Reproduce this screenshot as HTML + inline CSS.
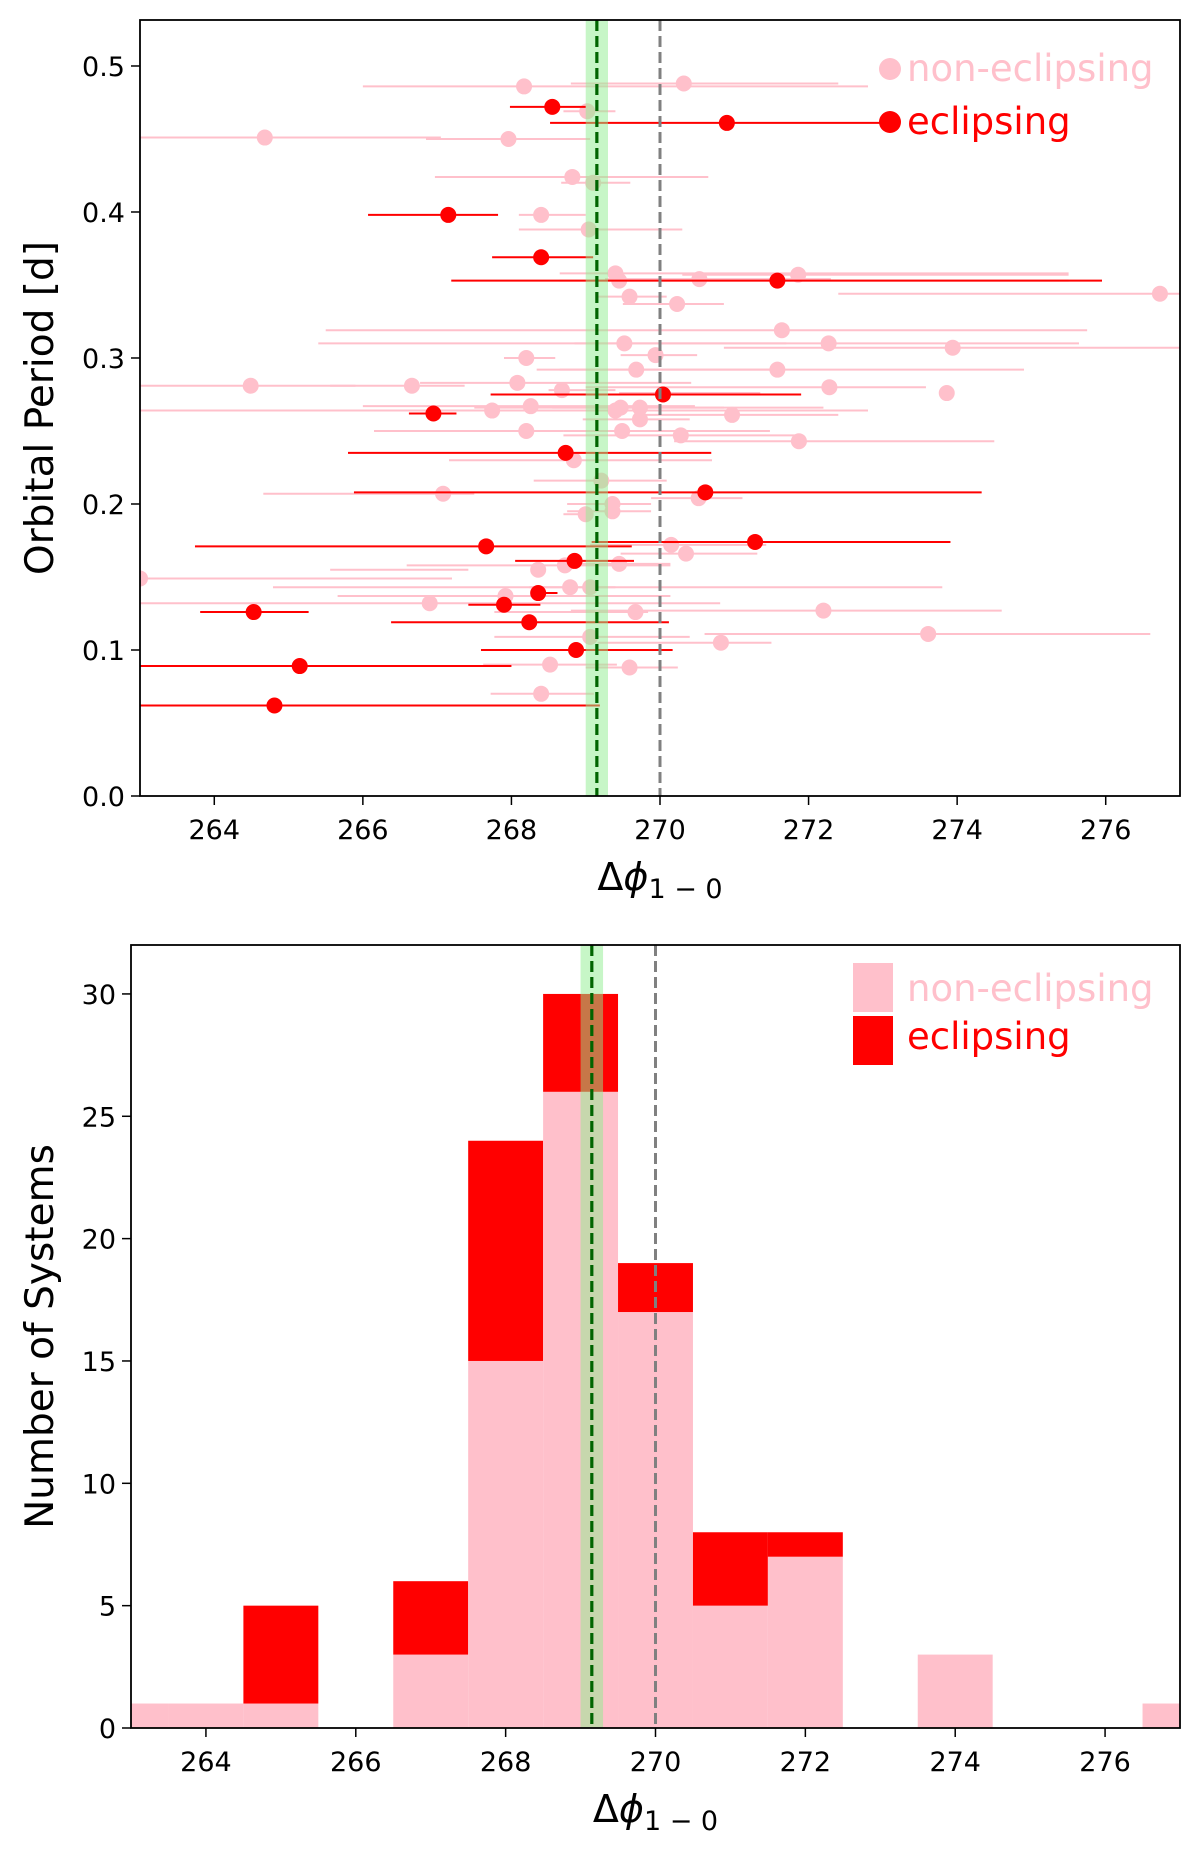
<!DOCTYPE html>
<html><head><meta charset="utf-8"><style>
html,body{margin:0;padding:0;background:#fff;}
svg{display:block;font-family:"DejaVu Sans","Liberation Sans",sans-serif;}
</style></head><body>
<svg id="fig" width="1200" height="1854" viewBox="0 0 1200 1854" xmlns="http://www.w3.org/2000/svg"></svg>
<script>
// ---- scatter data (x = delta phi, y = period, lo/hi = error bar ends) ----
const pinkX=[268.17,270.32,269.02,264.68,267.96,268.82,269.1,268.4,269.04,269.4,269.45,270.53,271.86,276.73,269.59,270.23,271.64,269.52,272.27,273.94,268.2,269.94,269.68,271.58,264.49,266.66,268.08,268.68,272.28,273.86,267.74,268.26,269.4,269.47,269.73,269.73,270.97,268.2,269.49,270.28,271.87,268.84,269.21,267.08,270.52,269.36,269.36,269.0,270.15,270.35,268.36,268.72,269.45,263.0,268.79,269.06,267.92,266.9,269.67,272.2,269.06,273.61,270.82,268.52,269.59,268.4];
const pinkY=[0.486,0.488,0.469,0.451,0.450,0.424,0.420,0.398,0.388,0.358,0.353,0.354,0.357,0.344,0.342,0.337,0.319,0.310,0.310,0.307,0.300,0.302,0.292,0.292,0.281,0.281,0.283,0.278,0.280,0.276,0.264,0.267,0.264,0.266,0.266,0.258,0.261,0.250,0.250,0.247,0.243,0.230,0.216,0.207,0.204,0.200,0.195,0.193,0.172,0.166,0.155,0.158,0.159,0.149,0.143,0.143,0.137,0.132,0.126,0.127,0.109,0.111,0.105,0.090,0.088,0.070];
const pinkLo=[266.0,268.8,268.7,263.0,266.85,266.97,268.67,268.1,268.1,268.65,268.65,269.26,270.3,272.4,269.16,269.5,265.5,265.4,268.85,270.86,267.9,269.47,268.65,268.34,263.0,265.56,266.77,268.5,269.0,269.45,263.0,266.0,267.1,267.5,268.55,268.96,269.78,266.15,268.7,268.7,270.19,267.16,268.3,264.66,269.88,268.75,268.75,268.7,269.06,269.47,265.56,266.59,268.75,263.0,264.79,268.24,265.66,263.0,267.77,268.8,267.77,270.6,269.16,267.62,269.0,267.72];
const pinkHi=[272.8,272.4,269.4,267.05,269.06,270.65,269.6,269.0,270.3,275.5,275.5,272.3,275.5,277.0,270.09,270.86,275.75,271.7,275.64,277.0,268.59,270.5,271.63,274.9,265.9,267.37,270.42,269.4,273.58,271.35,272.8,270.47,271.92,270.86,272.2,270.4,272.4,268.7,271.48,271.83,274.5,270.7,270.09,267.5,271.11,269.88,269.88,268.9,271.43,271.31,267.42,270.14,270.14,267.2,273.8,269.4,270.14,270.81,269.84,274.6,270.4,276.6,271.5,269.42,270.24,269.11];
const eclX=[268.55,270.9,267.15,268.4,271.58,266.95,270.04,268.73,270.61,267.66,271.28,268.85,268.36,267.9,264.53,268.24,268.87,265.15,264.81];
const eclY=[0.472,0.461,0.398,0.369,0.353,0.262,0.275,0.235,0.208,0.171,0.174,0.161,0.139,0.131,0.126,0.119,0.100,0.089,0.062];
const eclLo=[267.98,268.52,266.07,267.74,267.19,266.62,267.72,265.8,265.88,263.74,269.08,268.05,268.3,267.42,263.81,266.38,267.59,263.0,263.0];
const eclHi=[269.0,272.96,267.82,269.1,275.95,267.26,271.9,270.69,274.33,269.62,273.91,269.65,268.62,268.39,265.27,270.12,270.17,268.0,269.19];
// ---- histogram data (bins centered on integers, width 1) ----
const binCenters=[263,264,265,266,267,268,269,270,271,272,273,274,275,276,277];
const nonEclCounts=[1,1,1,0,3,15,26,17,5,7,0,3,0,0,1];
const eclCounts=[0,0,4,0,3,9,4,2,3,1,0,0,0,0,0];
const xTicks=[264,266,268,270,272,274,276];
const yTicksTop=[0.0,0.1,0.2,0.3,0.4,0.5];
const yTicksBot=[0,5,10,15,20,25,30];

const NS="http://www.w3.org/2000/svg";
const svg=document.getElementById('fig');
function el(tag,attrs,parent){const e=document.createElementNS(NS,tag);for(const k in attrs)e.setAttribute(k,attrs[k]);(parent||svg).appendChild(e);return e;}

const R=1180,XMIN=263,XMAX=277;
const mkX=L=>v=>L+(v-XMIN)/(XMAX-XMIN)*(R-L);
const L1=140,L2=131;
const sx1=mkX(L1),sx2=mkX(L2);
const T1=20,B1=796,YMAX1=0.5315;
const sy1=v=>B1-v/YMAX1*(B1-T1);
const T2=945,B2=1728,YMAX2=32.0;
const sy2=v=>B2-v/YMAX2*(B2-T2);

function clipRect(id,L,t,b){const d=el('defs',{});const c=el('clipPath',{id:id},d);el('rect',{x:L,y:t,width:R-L,height:b-t},c);}
clipRect('c1',L1,T1,B1);clipRect('c2',L2,T2,B2);

function refLines(g,sx,t,b){
  const band=el('rect',{x:sx(269.0),y:t,width:sx(269.3)-sx(269.0),height:b-t,fill:'rgba(144,238,144,0.5)'},g);
  
  
  const gl=el('line',{x1:sx(269.15),x2:sx(269.15),y1:t,y2:b,stroke:'#006400','stroke-width':3.2,'stroke-dasharray':'11,5'},g);
  
  
  const gr=el('line',{x1:sx(270),x2:sx(270),y1:t,y2:b,stroke:'#808080','stroke-width':3,'stroke-dasharray':'11,5'},g);
  
  
}

// ===== TOP PLOT =====
const g1=el('g',{'clip-path':'url(#c1)'});


for(let i=0;i<pinkX.length;i++){
  const e=el('line',{x1:sx1(pinkLo[i]),x2:sx1(pinkHi[i]),y1:sy1(pinkY[i]),y2:sy1(pinkY[i]),stroke:'pink','stroke-width':2},g1);
  
  
  const c=el('circle',{cx:sx1(pinkX[i]),cy:sy1(pinkY[i]),r:8,fill:'pink'},g1);
  
  
}
for(let i=0;i<eclX.length;i++){
  const e=el('line',{x1:sx1(eclLo[i]),x2:sx1(eclHi[i]),y1:sy1(eclY[i]),y2:sy1(eclY[i]),stroke:'red','stroke-width':2},g1);
  
  
  const c=el('circle',{cx:sx1(eclX[i]),cy:sy1(eclY[i]),r:8,fill:'red'},g1);
  
  
}
refLines(g1,sx1,T1,B1);

// ===== BOTTOM PLOT =====
const g2=el('g',{'clip-path':'url(#c2)'});


for(let i=0;i<binCenters.length;i++){
  const x0=sx2(binCenters[i]-0.5),w=sx2(binCenters[i]+0.5)-x0;
  if(nonEclCounts[i]>0){
    const r=el('rect',{x:x0,y:sy2(nonEclCounts[i]),width:w,height:sy2(0)-sy2(nonEclCounts[i]),fill:'pink'},g2);
    
    
  }
  if(eclCounts[i]>0){
    const top=nonEclCounts[i]+eclCounts[i];
    const r=el('rect',{x:x0,y:sy2(top),width:w,height:sy2(nonEclCounts[i])-sy2(top),fill:'red'},g2);
    
    
  }
}
refLines(g2,sx2,T2,B2);

// ===== AXES =====
function axes(L,sx,t,b,yTicks,sy,fmt,ylabel,prefix){
  const f=el('rect',{x:L,y:t,width:R-L,height:b-t,fill:'none',stroke:'#000','stroke-width':1.8});
  
  
  for(const v of xTicks){
    el('line',{x1:sx(v),x2:sx(v),y1:b,y2:b+9,stroke:'#000','stroke-width':1.5});
    const tx=el('text',{x:sx(v),y:b+43,'font-size':27,'text-anchor':'middle',fill:'#000'});
    tx.textContent=v;
    
    
  }
  for(const v of yTicks){
    el('line',{x1:L-9,x2:L,y1:sy(v),y2:sy(v),stroke:'#000','stroke-width':1.5});
    const tx=el('text',{x:L-15,y:sy(v)+10,'font-size':27,'text-anchor':'end',fill:'#000'});
    tx.textContent=fmt(v);
    
    
  }
  const xl=el('text',{x:(L+R)/2,y:b+94,'font-size':38,'text-anchor':'middle',fill:'#000'});
  xl.innerHTML='Δ<tspan font-style="italic">ϕ</tspan><tspan font-size="27" dy="8">1 − 0</tspan>';
  
  
  const cy=(t+b)/2;
  const yl=el('text',{x:0,y:0,'font-size':39,'text-anchor':'middle',fill:'#000',transform:`translate(53,${cy}) rotate(-90)`});
  yl.textContent=ylabel;
  
  
}
axes(L1,sx1,T1,B1,yTicksTop,sy1,v=>v.toFixed(1),'Orbital Period [d]','scatter');
axes(L2,sx2,T2,B2,yTicksBot,sy2,v=>String(v),'Number of Systems','histogram');

// ===== LEGENDS =====
let c=el('circle',{cx:890,cy:69,r:11,fill:'pink'});


let t=el('text',{x:907,y:81,'font-size':37,fill:'pink'});t.textContent='non-eclipsing';


c=el('circle',{cx:890,cy:122,r:11,fill:'red'});


t=el('text',{x:907,y:134,'font-size':37,fill:'red'});t.textContent='eclipsing';



let r=el('rect',{x:853,y:963,width:40,height:49,fill:'pink'});


t=el('text',{x:907,y:1001,'font-size':37,fill:'pink'});t.textContent='non-eclipsing';


r=el('rect',{x:853,y:1016,width:40,height:49,fill:'red'});


t=el('text',{x:907,y:1049,'font-size':37,fill:'red'});t.textContent='eclipsing';


</script>
</body></html>
